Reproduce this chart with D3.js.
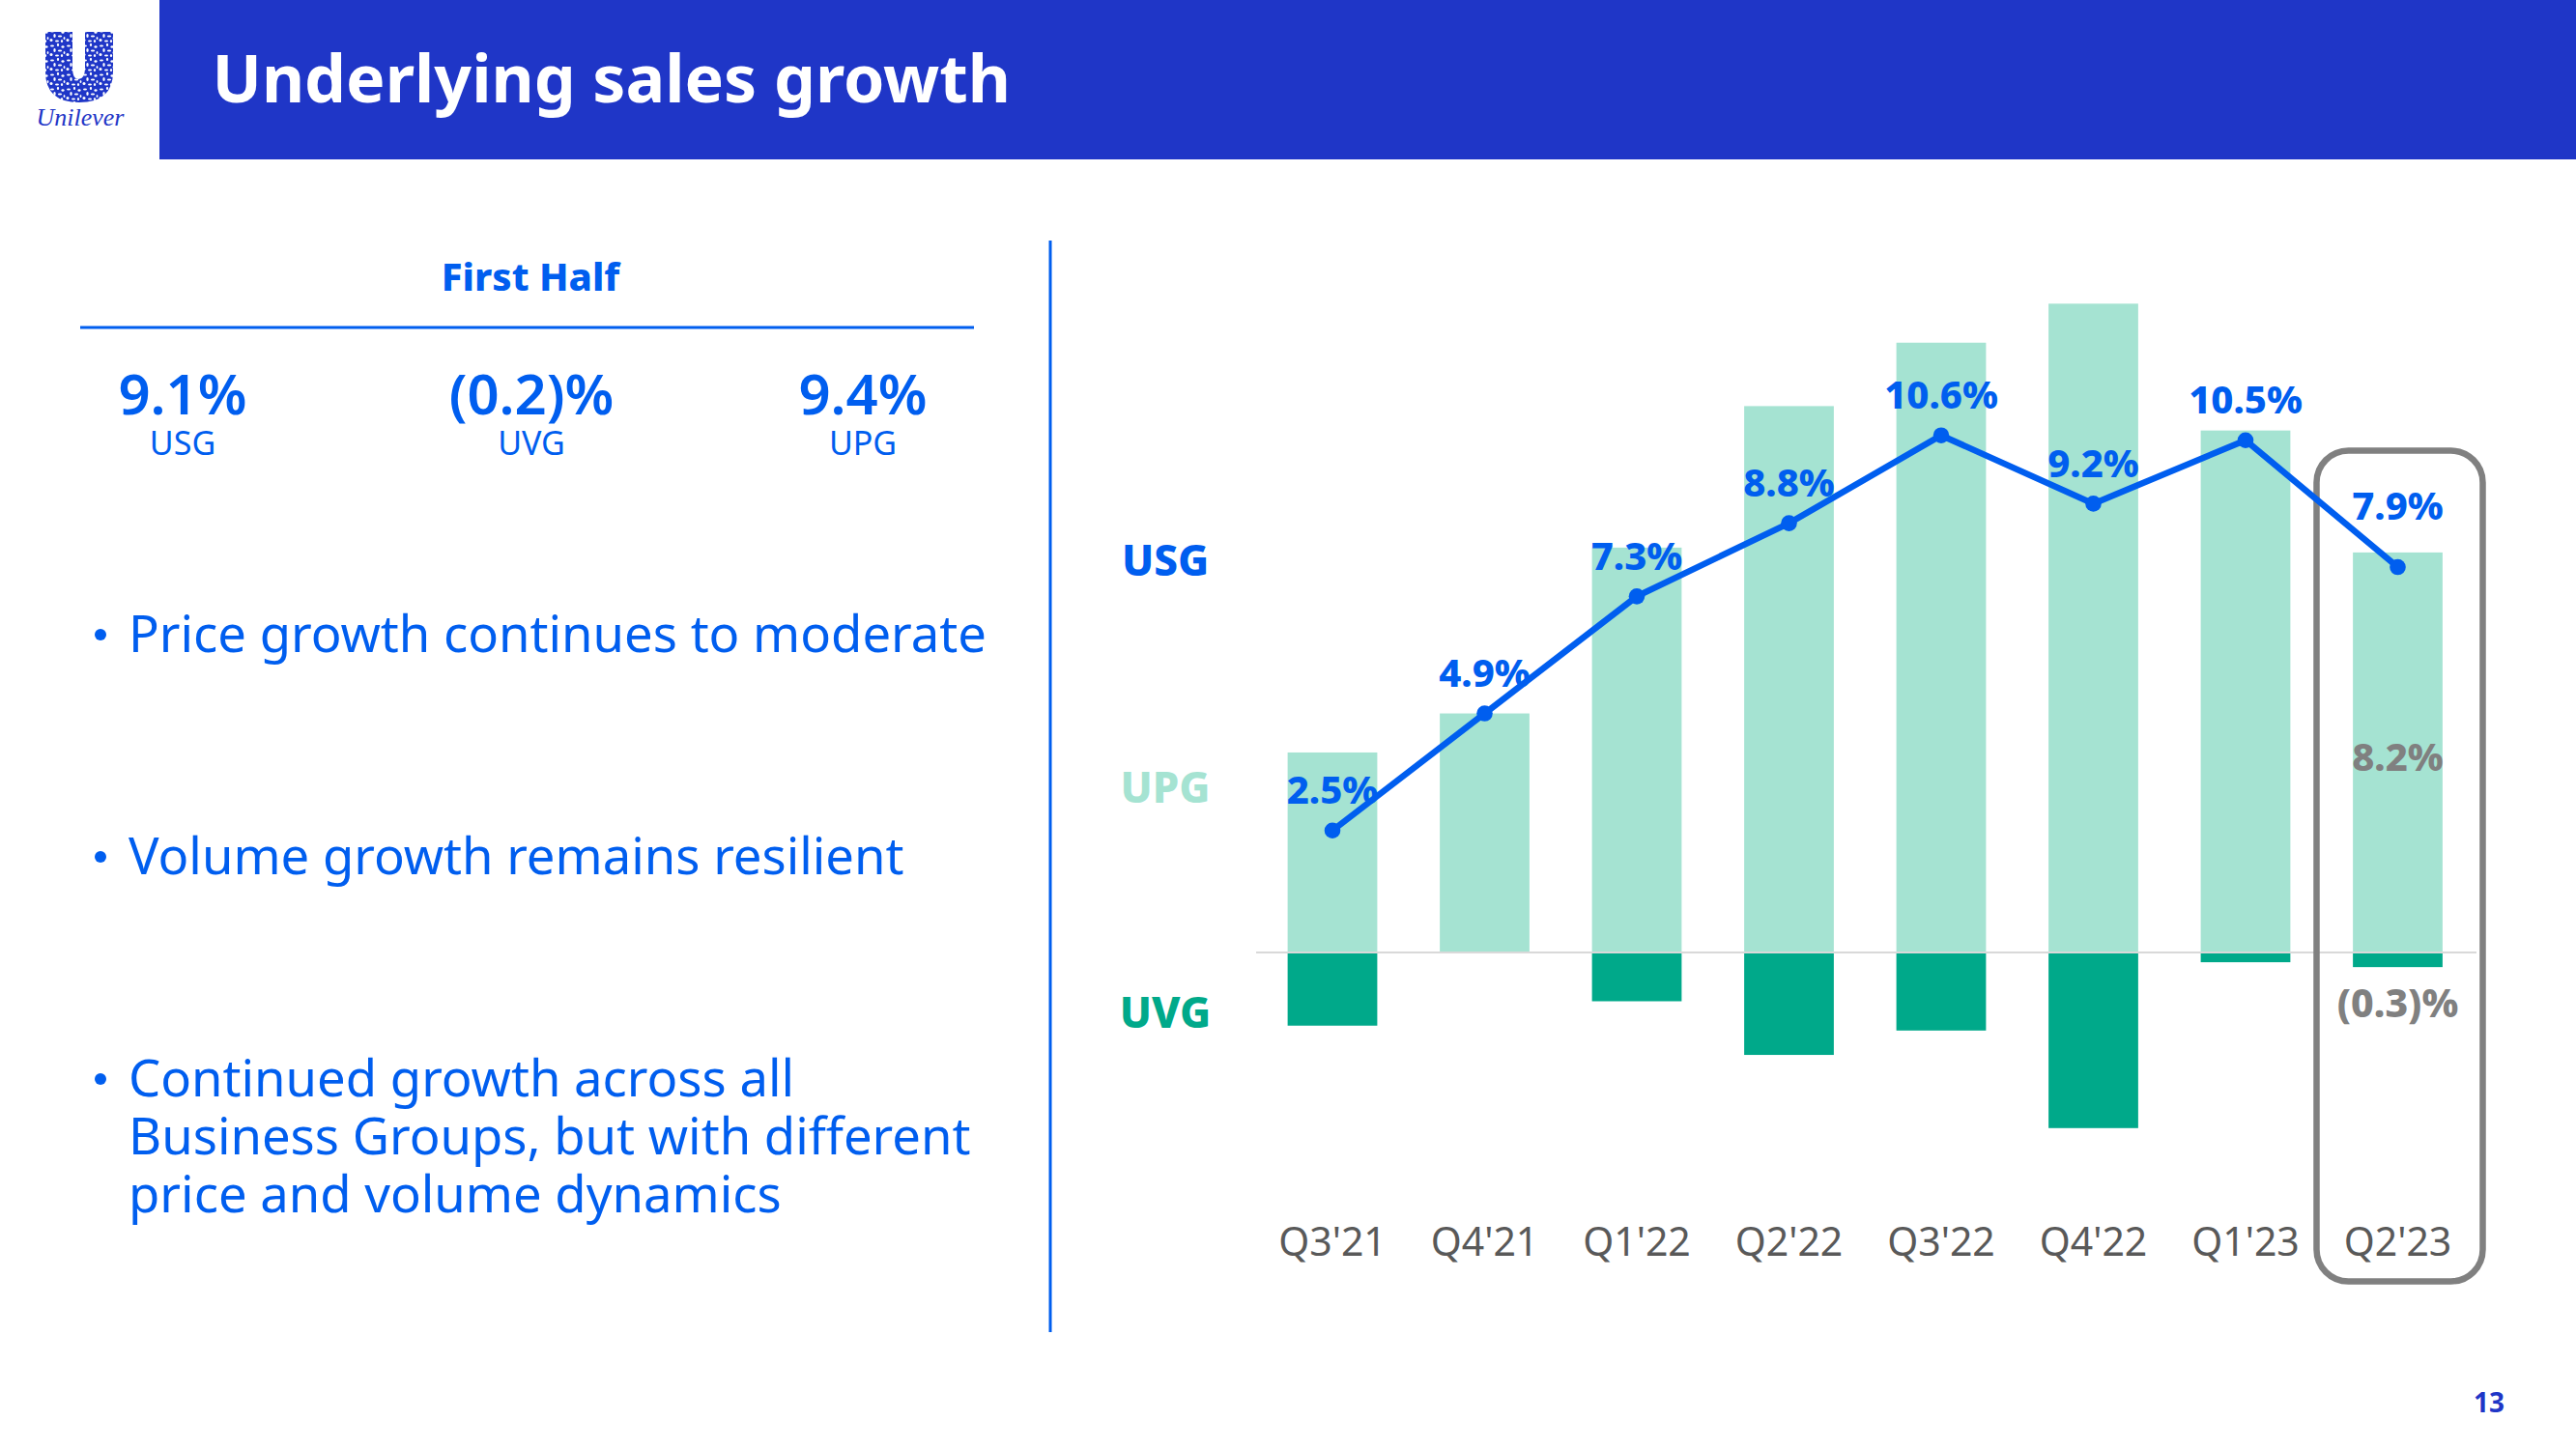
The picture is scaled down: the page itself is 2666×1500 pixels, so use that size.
<!DOCTYPE html>
<html>
<head>
<meta charset="utf-8">
<title>Underlying sales growth</title>
<script src="https://cdn.jsdelivr.net/npm/d3@7"></script>
<style>
  html, body { margin: 0; padding: 0; background: #fff; }
  svg { display: block; }
  text { font-family: "Noto Sans", sans-serif; }
</style>
</head>
<body>
<div id="slide"></div>
<script>
// chart values
const quarters = ["Q3'21", "Q4'21", "Q1'22", "Q2'22", "Q3'22", "Q4'22", "Q1'23", "Q2'23"];
const upg = [4.1, 4.9, 8.3, 11.2, 12.5, 13.3, 10.7, 8.2];
const uvg = [-1.5, 0, -1.0, -2.1, -1.6, -3.6, -0.2, -0.3];
const usg = [2.5, 4.9, 7.3, 8.8, 10.6, 9.2, 10.5, 7.9];
const usgLabels = ["2.5%", "4.9%", "7.3%", "8.8%", "10.6%", "9.2%", "10.5%", "7.9%"];

const firstHalfValues = ["9.1%", "(0.2)%", "9.4%"];
const firstHalfNames = ["USG", "UVG", "UPG"];
const bullets = [
  ["Price growth continues to moderate"],
  ["Volume growth remains resilient"],
  ["Continued growth across all", "Business Groups, but with different", "price and volume dynamics"]
];

const BLUE = "#005eef", NAVY = "#1f36c7", LIGHT = "#a5e3d2", DARK = "#00a98a", GREY = "#808080";

const svg = d3.select("#slide").append("svg")
  .attr("width", 2666).attr("height", 1500).attr("viewBox", "0 0 2666 1500");

// header
svg.append("rect").attr("x", 165).attr("y", 0).attr("width", 2501).attr("height", 165).attr("fill", NAVY);
svg.append("text").attr("x", 219.5).attr("y", 106)
  .attr("font-size", 68).attr("font-weight", 700).attr("fill", "#fff")
  .text("Underlying sales growth");
svg.append("text").attr("x", 2592).attr("y", 1462).attr("text-anchor", "end")
  .attr("font-size", 28).attr("font-weight", 700).attr("fill", NAVY).text("13");

// logo: U shape with a blotchy pattern knocked out of it
const defs = svg.append("defs");
const tile = defs.append("pattern").attr("id", "logo-tile").attr("patternUnits", "userSpaceOnUse")
  .attr("width", 17).attr("height", 15);
tile.append("rect").attr("width", 17).attr("height", 15).attr("fill", NAVY);
const tileBlobs = [[3, 2.5, 2, 1.1], [9, 1.5, 1.1, 1.6], [14, 3.5, 1.6, 1.2], [5.5, 7, 1.2, 2], [11, 7.5, 2.2, 1.1],
  [15.5, 9.5, 0.9, 1.5], [2, 11.5, 1.5, 1.5], [8, 12.5, 2, 1], [13, 12.5, 1.1, 1.5]];
tile.selectAll("ellipse").data(tileBlobs).join("ellipse")
  .attr("cx", d => d[0]).attr("cy", d => d[1]).attr("rx", d => d[2]).attr("ry", d => d[3]).attr("fill", "#fff");
svg.append("path")
  .attr("d", "M47,33H75V70Q75,82 81,82Q88,82 88,70V33H117V74Q117,106 82,106Q47,106 47,74Z")
  .attr("fill", "url(#logo-tile)");
svg.append("text").attr("x", 83).attr("y", 130).attr("text-anchor", "middle")
  .attr("font-size", 26).attr("font-style", "italic").attr("fill", NAVY)
  .style("font-family", "'Liberation Serif', serif").text("Unilever");

// left panel
const left = svg.append("g");
left.append("text").attr("x", 549).attr("y", 301).attr("text-anchor", "middle")
  .attr("font-size", 40).attr("font-weight", 800).attr("fill", BLUE).text("First Half");
left.append("line").attr("x1", 83).attr("x2", 1008).attr("y1", 339).attr("y2", 339)
  .attr("stroke", BLUE).attr("stroke-width", 3);

const summaryX = [189, 550, 893];
left.selectAll("text.value").data(firstHalfValues).join("text").attr("class", "value")
  .attr("x", (d, i) => summaryX[i]).attr("y", 429).attr("text-anchor", "middle")
  .attr("font-size", 58).attr("font-weight", 600).attr("fill", BLUE).text(d => d);
left.selectAll("text.name").data(firstHalfNames).join("text").attr("class", "name")
  .attr("x", (d, i) => summaryX[i]).attr("y", 471).attr("text-anchor", "middle")
  .attr("font-size", 34).attr("fill", BLUE).text(d => d);

const bulletY = [675, 905, 1135];
bullets.forEach((lines, i) => {
  left.append("circle").attr("cx", 104).attr("cy", bulletY[i] - 18).attr("r", 6).attr("fill", BLUE);
  lines.forEach((line, j) => {
    left.append("text").attr("x", 133).attr("y", bulletY[i] + j * 60)
      .attr("font-size", 52.6).attr("fill", BLUE).text(line);
  });
});

left.append("line").attr("x1", 1087).attr("x2", 1087).attr("y1", 249).attr("y2", 1379)
  .attr("stroke", BLUE).attr("stroke-width", 3);

// chart
const x = d3.scaleBand().domain(quarters).range([1300.25, 2560.25]).paddingInner(0.411).paddingOuter(0.2055);
const y = d3.scaleLinear().domain([0, 10]).range([986, 481]);
const cx = d => x(d) + x.bandwidth() / 2;

const chart = svg.append("g");

chart.selectAll("rect.upg").data(quarters).join("rect").attr("class", "upg")
  .attr("x", d => x(d)).attr("width", x.bandwidth())
  .attr("y", (d, i) => y(upg[i])).attr("height", (d, i) => y(0) - y(upg[i]))
  .attr("fill", LIGHT);
chart.selectAll("rect.uvg").data(quarters).join("rect").attr("class", "uvg")
  .attr("x", d => x(d)).attr("width", x.bandwidth())
  .attr("y", y(0)).attr("height", (d, i) => y(uvg[i]) - y(0))
  .attr("fill", DARK);

chart.append("line").attr("x1", 1300).attr("x2", 2563).attr("y1", y(0)).attr("y2", y(0))
  .attr("stroke", "#d9d9d9").attr("stroke-width", 2);

const axis = chart.append("g").attr("transform", "translate(0,1300)")
  .call(d3.axisBottom(x).tickSize(0));
axis.select(".domain").remove();
axis.selectAll("text").attr("y", 0).attr("dy", 0)
  .attr("font-size", 41).attr("fill", "#595959").style("font-family", "'Noto Sans', sans-serif");

// highlight round the latest quarter
const lastQ = quarters[quarters.length - 1];
chart.append("rect")
  .attr("x", cx(lastQ) - 84).attr("width", 172).attr("y", 466.5).attr("height", 860)
  .attr("rx", 33).attr("ry", 33)
  .attr("fill", "none").attr("stroke", GREY).attr("stroke-width", 6.5);

const line = d3.line().x((d, i) => cx(quarters[i])).y(d => y(d));
chart.append("path").datum(usg).attr("d", line)
  .attr("fill", "none").attr("stroke", BLUE).attr("stroke-width", 6.5);
chart.selectAll("circle.usg").data(usg).join("circle").attr("class", "usg")
  .attr("cx", (d, i) => cx(quarters[i])).attr("cy", d => y(d)).attr("r", 8.3).attr("fill", BLUE);

chart.selectAll("text.usg").data(usg).join("text").attr("class", "usg")
  .attr("x", (d, i) => cx(quarters[i])).attr("y", (d, i) => y(d) - (i === usg.length - 1 ? 49 : 27.5))
  .attr("text-anchor", "middle").attr("font-size", 40).attr("font-weight", 800).attr("fill", BLUE)
  .text((d, i) => usgLabels[i]);

// grey call-outs on the latest quarter
chart.append("text").attr("x", cx(lastQ)).attr("y", 797.5).attr("text-anchor", "middle")
  .attr("font-size", 40).attr("font-weight", 800).attr("fill", GREY).text("8.2%");
chart.append("text").attr("x", cx(lastQ)).attr("y", 1052.5).attr("text-anchor", "middle")
  .attr("font-size", 41).attr("font-weight", 800).attr("fill", GREY).text("(0.3)%");

// series names
const seriesNames = ["USG", "UPG", "UVG"];
const seriesY = [595.5, 830.5, 1063.5];
const seriesColors = [BLUE, LIGHT, DARK];
chart.selectAll("text.series").data(seriesNames).join("text").attr("class", "series")
  .attr("x", 1206).attr("y", (d, i) => seriesY[i]).attr("text-anchor", "middle")
  .attr("font-size", 44).attr("font-weight", 800).attr("fill", (d, i) => seriesColors[i]).text(d => d);
</script>
</body>
</html>
